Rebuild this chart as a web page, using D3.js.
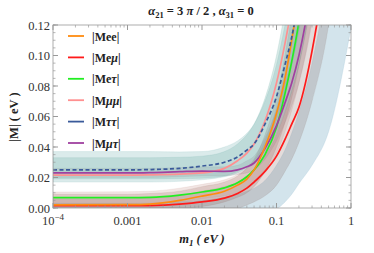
<!DOCTYPE html>
<html>
<head>
<meta charset="utf-8">
<script src="https://cdn.jsdelivr.net/npm/d3@7"></script>
<style>
  body { margin: 0; background: #fff; }
  svg { font-family: "Liberation Serif", "DejaVu Serif", serif; }
</style>
</head>
<body>
<svg id="chart" width="374" height="253"></svg>
<script>
// m1 grid (eV)
var m1 = [1e-4, 1e-3, 0.002, 0.005, 0.01, 0.02, 0.03, 0.04, 0.05, 0.07, 0.1, 0.13, 0.16, 0.2, 0.3, 0.5, 1];

// central curves
var mee     = [0.002, 0.0022, 0.0026, 0.005, 0.0078, 0.011, 0.015, 0.019, 0.025, 0.040, 0.062, 0.085, 0.110, 0.140, 0.21, 0.35, 0.72];
var memu    = [0.0015, 0.0015, 0.0016, 0.0025, 0.004, 0.0065, 0.0095, 0.013, 0.017, 0.024, 0.034, 0.045, 0.055, 0.066, 0.103, 0.175, 0.36];
var metau   = [0.0068, 0.0068, 0.0070, 0.0085, 0.0105, 0.0132, 0.0165, 0.0205, 0.025, 0.035, 0.053, 0.075, 0.096, 0.122, 0.185, 0.31, 0.62];
var mmumu   = [0.0215, 0.0215, 0.0217, 0.0222, 0.023, 0.026, 0.031, 0.036, 0.042, 0.057, 0.082, 0.108, 0.132, 0.165, 0.25, 0.41, 0.83];
var mtautau = [0.025, 0.025, 0.0252, 0.026, 0.0275, 0.030, 0.0335, 0.038, 0.042, 0.055, 0.073, 0.094, 0.112, 0.138, 0.205, 0.34, 0.67];
var mmutau  = [0.023, 0.023, 0.0232, 0.0238, 0.0242, 0.024, 0.025, 0.027, 0.0295, 0.039, 0.054, 0.069, 0.082, 0.100, 0.148, 0.245, 0.49];

// uncertainty bands (lower / upper)
var blueLo    = [0, 0, 0, 0, 0, 0, 0, 0, 0, 0, 0, 0.004, 0.009, 0.016, 0.028, 0.050, 0.118];
var blueHi    = [0.003, 0.003, 0.003, 0.004, 0.005, 0.007, 0.009, 0.011, 0.013, 0.018, 0.028, 0.038, 0.049, 0.063, 0.095, 0.158, 0.32];
var memuLo    = [0, 0, 0, 0, 0, 0, 0, 0.002, 0.004, 0.008, 0.015, 0.024, 0.032, 0.043, 0.070, 0.12, 0.25];
var memuHi    = [0.006, 0.006, 0.0065, 0.008, 0.011, 0.014, 0.017, 0.021, 0.025, 0.034, 0.048, 0.063, 0.077, 0.095, 0.145, 0.245, 0.5];
var meeLo     = [0, 0, 0, 0, 0.001, 0.004, 0.007, 0.010, 0.014, 0.024, 0.040, 0.056, 0.072, 0.093, 0.14, 0.235, 0.47];
var meeHi     = [0.009, 0.009, 0.0095, 0.011, 0.014, 0.017, 0.021, 0.026, 0.032, 0.048, 0.073, 0.100, 0.127, 0.163, 0.245, 0.41, 0.82];
var metauLo   = [0.003, 0.003, 0.0032, 0.004, 0.006, 0.008, 0.010, 0.013, 0.016, 0.024, 0.036, 0.050, 0.064, 0.082, 0.125, 0.21, 0.42];
var metauHi   = [0.0105, 0.0107, 0.011, 0.013, 0.0155, 0.0185, 0.022, 0.026, 0.031, 0.044, 0.066, 0.090, 0.113, 0.145, 0.22, 0.37, 0.74];
var mmutauLo  = [0.020, 0.020, 0.020, 0.0205, 0.021, 0.021, 0.022, 0.023, 0.025, 0.032, 0.044, 0.056, 0.067, 0.082, 0.122, 0.20, 0.40];
var mmutauHi  = [0.026, 0.026, 0.026, 0.0265, 0.027, 0.027, 0.028, 0.031, 0.034, 0.046, 0.064, 0.082, 0.097, 0.118, 0.175, 0.29, 0.58];
var mmumuLo   = [0.019, 0.019, 0.019, 0.0192, 0.0195, 0.021, 0.024, 0.027, 0.031, 0.041, 0.058, 0.076, 0.093, 0.116, 0.175, 0.29, 0.58];
var mmumuHi   = [0.033, 0.033, 0.033, 0.0333, 0.034, 0.037, 0.042, 0.048, 0.055, 0.072, 0.100, 0.130, 0.160, 0.200, 0.30, 0.50, 1.0];
var mtautauLo = [0.017, 0.017, 0.017, 0.0175, 0.0185, 0.0205, 0.023, 0.026, 0.029, 0.037, 0.049, 0.063, 0.076, 0.094, 0.14, 0.23, 0.46];
var mtautauHi = [0.037, 0.037, 0.037, 0.0368, 0.037, 0.040, 0.044, 0.049, 0.055, 0.070, 0.094, 0.120, 0.145, 0.180, 0.27, 0.45, 0.9];

var legendNames = ["|Mee|", "|Me\u03bc|", "|Me\u03c4|", "|M\u03bc\u03bc|", "|M\u03c4\u03c4|", "|M\u03bc\u03c4|"];
var xTicks = [1e-4, 1e-3, 0.01, 0.1, 1];
var xTickLabels = ["10", "0.001", "0.01", "0.1", "1"];
var yTicks = [0, 0.02, 0.04, 0.06, 0.08, 0.10, 0.12];

var svg = d3.select("#chart");
var pLeft = 53, pRight = 351, pTop = 25, pBottom = 208;

var x = d3.scaleLog().domain([1e-4, 1]).range([pLeft, pRight]);
var y = d3.scaleLinear().domain([0, 0.12]).range([pBottom, pTop]);

svg.append("clipPath").attr("id", "clip")
  .append("rect").attr("x", pLeft).attr("y", pTop).attr("width", pRight - pLeft).attr("height", pBottom - pTop);

var plot = svg.append("g").attr("clip-path", "url(#clip)");

var area = d3.area().x(function(d) { return x(d[0]); })
    .y0(function(d) { return y(d[1]); }).y1(function(d) { return y(d[2]); })
    .curve(d3.curveMonotoneX);
var line = d3.line().x(function(d) { return x(d[0]); }).y(function(d) { return y(d[1]); })
    .curve(d3.curveMonotoneX);

var bands = [
  [blueLo, blueHi, "rgba(150,190,210,0.42)"],
  [memuLo, memuHi, "rgba(140,110,105,0.24)"],
  [meeLo, meeHi, "rgba(150,100,90,0.22)"],
  [metauLo, metauHi, "rgba(190,130,120,0.20)"],
  [mmutauLo, mmutauHi, "rgba(150,120,130,0.20)"],
  [mmumuLo, mmumuHi, "rgba(100,170,160,0.25)"],
  [mtautauLo, mtautauHi, "rgba(110,175,175,0.25)"]
];
bands.forEach(function(b) {
  plot.append("path")
    .datum(m1.map(function(v, i) { return [v, b[0][i], b[1][i]]; }))
    .attr("d", area).attr("fill", b[2]).attr("stroke", b[2]).attr("stroke-width", 0.6);
});

var series = [
  [memu, "#ff1a1a", null],
  [metau, "#22ee22", null],
  [mmumu, "#ff9090", null],
  [mmutau, "#a040a0", null],
  [mee, "#ff8c10", null],
  [mtautau, "#3a5a9a", "4,2.5"]
];
series.forEach(function(s) {
  plot.append("path")
    .datum(m1.map(function(v, i) { return [v, s[0][i]]; }))
    .attr("d", line).attr("fill", "none").attr("stroke", s[1])
    .attr("stroke-width", 1.7).attr("stroke-dasharray", s[2]);
});

// frame
var frameCol = "#999";
svg.append("rect").attr("x", pLeft).attr("y", pTop).attr("width", pRight - pLeft).attr("height", pBottom - pTop)
  .attr("fill", "none").attr("stroke", frameCol).attr("stroke-width", 0.8);

// x ticks (log, with minors)
var minorX = [];
for (var e = -4; e < 0; e++) for (var k = 2; k <= 9; k++) minorX.push(k * Math.pow(10, e));
xTicks.forEach(function(t) {
  svg.append("line").attr("x1", x(t)).attr("x2", x(t)).attr("y1", pBottom).attr("y2", pBottom - 5).attr("stroke", frameCol);
  svg.append("line").attr("x1", x(t)).attr("x2", x(t)).attr("y1", pTop).attr("y2", pTop + 5).attr("stroke", frameCol);
});
minorX.forEach(function(t) {
  svg.append("line").attr("x1", x(t)).attr("x2", x(t)).attr("y1", pBottom).attr("y2", pBottom - 2.5).attr("stroke", frameCol).attr("stroke-width", 0.7);
  svg.append("line").attr("x1", x(t)).attr("x2", x(t)).attr("y1", pTop).attr("y2", pTop + 2.5).attr("stroke", frameCol).attr("stroke-width", 0.7);
});
xTicks.forEach(function(t, i) {
  var tx = svg.append("text").attr("x", x(t)).attr("y", pBottom + 17).attr("text-anchor", "middle")
    .attr("font-size", 12.5).attr("fill", "#333").text(xTickLabels[i]);
  if (i === 0) tx.append("tspan").attr("dy", -5).attr("font-size", 9).text("\u22124");
});

// y ticks
var minorY = d3.range(0, 0.1201, 0.005);
minorY.forEach(function(t) {
  svg.append("line").attr("x1", pLeft).attr("x2", pLeft + 2.5).attr("y1", y(t)).attr("y2", y(t)).attr("stroke", frameCol).attr("stroke-width", 0.7);
  svg.append("line").attr("x1", pRight).attr("x2", pRight - 2.5).attr("y1", y(t)).attr("y2", y(t)).attr("stroke", frameCol).attr("stroke-width", 0.7);
});
yTicks.forEach(function(t) {
  svg.append("line").attr("x1", pLeft).attr("x2", pLeft + 5).attr("y1", y(t)).attr("y2", y(t)).attr("stroke", frameCol);
  svg.append("line").attr("x1", pRight).attr("x2", pRight - 5).attr("y1", y(t)).attr("y2", y(t)).attr("stroke", frameCol);
  svg.append("text").attr("x", pLeft - 3).attr("y", y(t) + 4.5).attr("text-anchor", "end")
    .attr("font-size", 12.5).attr("fill", "#333").text(t.toFixed(2));
});

// legend
var legendCols = ["#ff8c10", "#ff1a1a", "#22ee22", "#ff9090", "#3a5a9a", "#a040a0"];
legendNames.forEach(function(n, i) {
  var ly = 36 + i * 21.4;
  svg.append("line").attr("x1", 68).attr("x2", 84).attr("y1", ly).attr("y2", ly)
    .attr("stroke", legendCols[i]).attr("stroke-width", 1.8);
  var t = svg.append("text").attr("x", 92).attr("y", ly + 4.5).attr("font-size", 12)
    .attr("font-weight", "bold").attr("fill", "#222");
  n.split("").forEach(function(c) {
    var ts = t.append("tspan").text(c);
    if (c === "\u03bc" || c === "\u03c4") ts.attr("font-style", "italic");
  });
});

// title
var title = svg.append("text").attr("x", 201).attr("y", 15).attr("text-anchor", "middle")
  .attr("font-size", 12.5).attr("font-weight", "bold").attr("fill", "#222");
title.append("tspan").attr("font-style", "italic").text("\u03b1");
title.append("tspan").attr("dy", 3).attr("font-size", 8.5).text("21");
title.append("tspan").attr("dy", -3).text(" = 3 ");
title.append("tspan").attr("font-style", "italic").text("\u03c0");
title.append("tspan").text(" / 2 ,  ");
title.append("tspan").attr("font-style", "italic").text("\u03b1");
title.append("tspan").attr("dy", 3).attr("font-size", 8.5).text("31");
title.append("tspan").attr("dy", -3).text(" = 0");

// axis labels
var xl = svg.append("text").attr("x", 202).attr("y", 243).attr("text-anchor", "middle")
  .attr("font-size", 12.5).attr("font-weight", "bold").attr("font-style", "italic").attr("fill", "#222");
xl.append("tspan").text("m");
xl.append("tspan").attr("dy", 3).attr("font-size", 9).text("1");
xl.append("tspan").attr("dy", -3).text(" ( eV )");

svg.append("text").attr("transform", "translate(18,117) rotate(-90)").attr("text-anchor", "middle")
  .attr("font-size", 12.5).attr("font-weight", "bold").attr("fill", "#222").text("|M| ( eV )");
</script>
</body>
</html>
